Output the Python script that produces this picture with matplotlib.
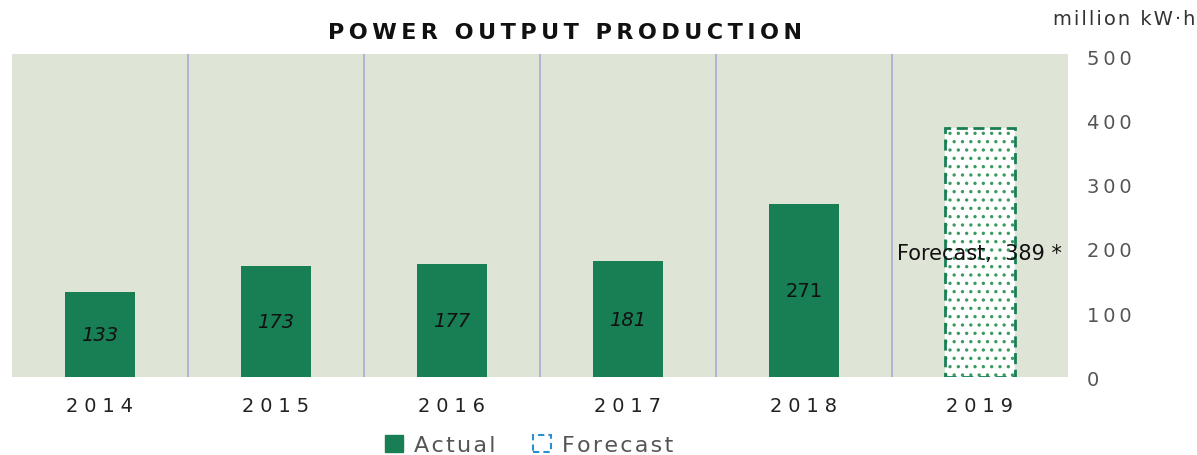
import matplotlib.pyplot as plt
from matplotlib.patches import Rectangle

years = ['2014', '2015', '2016', '2017', '2018', '2019']
actual = [133, 173, 177, 181, 271]
forecast = 389
ticks = [0, 100, 200, 300, 400, 500]

green = '#187f55'
bg = '#dfe5d6'


def spaced(s, sep='\u2009'):
    # the source chart uses wide letter spacing
    return sep.join(s)


fig = plt.figure(figsize=(11.97, 4.56), dpi=100)
ax = fig.add_axes([0.010, 0.171, 0.882, 0.709])
ax.set_facecolor(bg)

x = list(range(len(years)))
ax.bar(x[:5], actual, width=0.4, color=green, zorder=3)

# forecast bar: dotted fill plus dashed outline
plt.rcParams['hatch.linewidth'] = 1.2
ax.bar(x[5], forecast, width=0.4, color='white', edgecolor='#3a9a5e',
       hatch='..', linewidth=0, zorder=3)
ax.bar(x[5], forecast, width=0.4, fill=False, edgecolor=green,
       linewidth=2, linestyle=(0, (4, 2)), zorder=4)

# value labels in the middle of each bar
for i, v in enumerate(actual):
    style = 'italic' if i < 4 else 'normal'
    ax.text(x[i], v / 2, str(v), ha='center', va='center', fontsize=14,
            style=style, color='#111111', zorder=5)
ax.text(x[5], forecast / 2, 'Forecast,  389 *', ha='center', va='center',
        fontsize=15, color='#111111', zorder=5)

ax.set_xlim(-0.5, 5.5)
ax.set_ylim(0, 505)
ax.set_xticks(x)
ax.set_xticklabels([spaced(y, '\u2009\u200a') for y in years], fontsize=14,
                   color='#222222')
ax.set_xticks([i + 0.5 for i in x[:-1]], minor=True)
ax.tick_params(axis='x', which='both', length=0, pad=14)
ax.grid(axis='x', which='minor', color='#b4b4d2', linewidth=1.5, zorder=1)

ax.yaxis.tick_right()
ax.set_yticks(ticks)
ax.set_yticklabels([spaced(str(t)) for t in ticks])
ax.tick_params(axis='y', length=0, pad=14, labelsize=14, labelcolor='#555555')
for s in ax.spines.values():
    s.set_visible(False)

fig.text(0.472, 0.927, spaced('POWER OUTPUT PRODUCTION'), ha='center',
         va='center', fontsize=16, fontweight='bold', color='#111111')
fig.text(0.939, 0.958, spaced('million kW·h', '\u200a'), ha='center',
         va='center', fontsize=14, color='#333333')

# legend
handles = [Rectangle((0, 0), 1, 1, facecolor=green, edgecolor=green),
           Rectangle((0, 0), 1, 1, fill=False, edgecolor='#2a8fd0',
                     linestyle=(0, (3, 2)), linewidth=1.5)]
fig.legend(handles, [spaced('Actual', '\u200a'), spaced('Forecast', '\u200a')],
           loc='center', bbox_to_anchor=(0.442, 0.022), ncol=2, frameon=False,
           fontsize=16, labelcolor='#555555', handlelength=0.8,
           handleheight=0.8, handletextpad=0.5, columnspacing=1.7)

fig.savefig('out.png', dpi=100)
